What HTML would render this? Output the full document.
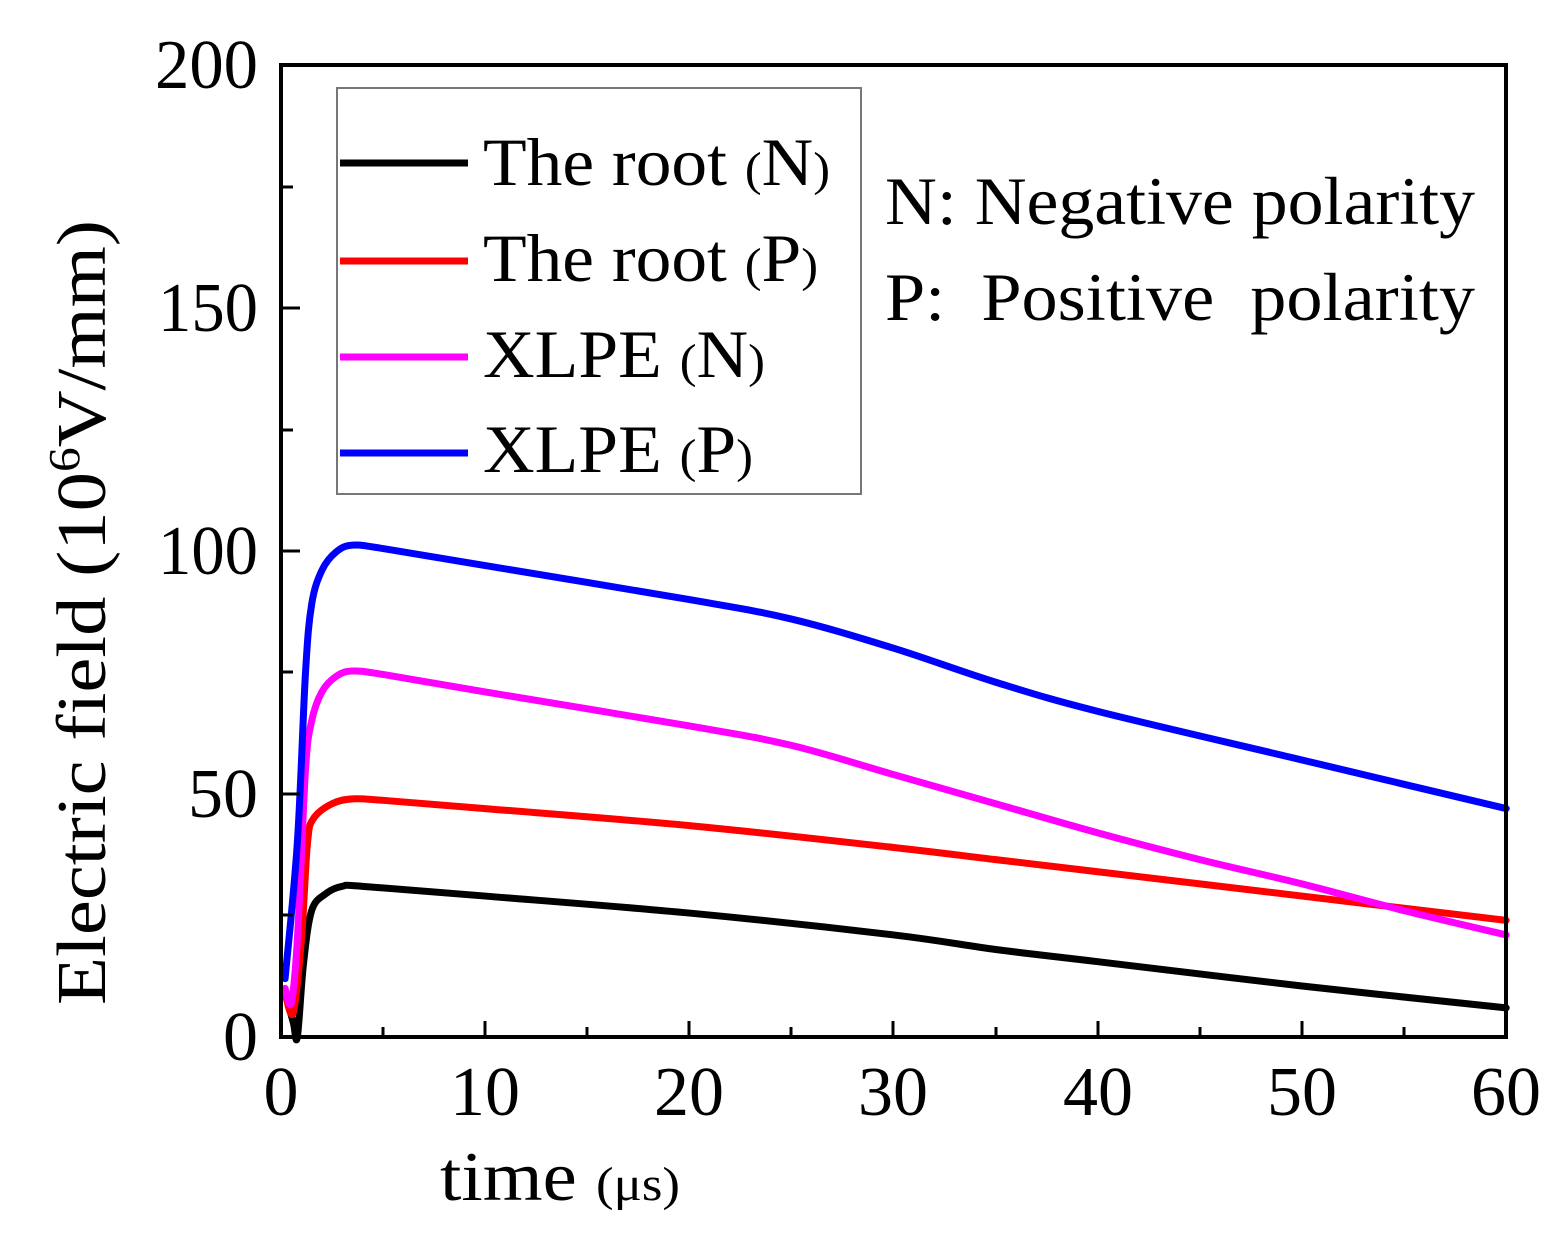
<!DOCTYPE html>
<html><head><style>
body{margin:0;background:#fff}
svg text{font-family:"Liberation Serif",serif;fill:#000}
</style></head><body>
<svg width="1563" height="1252" viewBox="0 0 1563 1252" xmlns="http://www.w3.org/2000/svg">
<g id="curves" fill="none" stroke-width="7" stroke-linejoin="round" stroke-linecap="round"></g>
<rect x="281" y="65" width="1225" height="972" fill="none" stroke="#000" stroke-width="4"/>
<g stroke="#000" stroke-width="3">
<line x1="485" y1="1037" x2="485" y2="1021"/><line x1="689" y1="1037" x2="689" y2="1021"/><line x1="893" y1="1037" x2="893" y2="1021"/><line x1="1098" y1="1037" x2="1098" y2="1021"/><line x1="1302" y1="1037" x2="1302" y2="1021"/>
<line x1="383" y1="1037" x2="383" y2="1027"/><line x1="587" y1="1037" x2="587" y2="1027"/><line x1="791" y1="1037" x2="791" y2="1027"/><line x1="996" y1="1037" x2="996" y2="1027"/><line x1="1200" y1="1037" x2="1200" y2="1027"/><line x1="1404" y1="1037" x2="1404" y2="1027"/>
<line x1="281" y1="794" x2="300" y2="794"/><line x1="281" y1="551" x2="300" y2="551"/><line x1="281" y1="308" x2="300" y2="308"/>
<line x1="281" y1="915" x2="293" y2="915"/><line x1="281" y1="672" x2="293" y2="672"/><line x1="281" y1="430" x2="293" y2="430"/><line x1="281" y1="187" x2="293" y2="187"/>
</g>
<g font-size="70" text-anchor="end">
<text x="258" y="1060">0</text><text x="258" y="817">50</text><text x="258" y="574" textLength="100" lengthAdjust="spacingAndGlyphs">100</text><text x="258" y="331" textLength="100" lengthAdjust="spacingAndGlyphs">150</text><text x="258" y="88" textLength="103" lengthAdjust="spacingAndGlyphs">200</text>
</g>
<g font-size="70" text-anchor="middle">
<text x="281" y="1115">0</text><text x="485" y="1115">10</text><text x="689" y="1115">20</text><text x="893" y="1115">30</text><text x="1098" y="1115">40</text><text x="1302" y="1115">50</text><text x="1506" y="1115">60</text>
</g>
<text x="440" y="1200" font-size="70" textLength="240" lengthAdjust="spacingAndGlyphs">time <tspan font-size="48">(μs)</tspan></text>
<text transform="translate(105,1005) rotate(-90)" font-size="70" textLength="785" lengthAdjust="spacingAndGlyphs">Electric field (10<tspan font-size="44" dy="-26">6</tspan><tspan dy="26">V/mm)</tspan></text>
<rect x="337" y="88" width="524" height="406" fill="#fff" stroke="#777" stroke-width="2"/>
<g stroke-width="7">
<line x1="340" y1="163" x2="468" y2="163" stroke="#000"/>
<line x1="340" y1="261" x2="468" y2="261" stroke="#f00"/>
<line x1="340" y1="357" x2="468" y2="357" stroke="#f0f"/>
<line x1="340" y1="453" x2="468" y2="453" stroke="#00f"/>
</g>
<g font-size="68">
<text x="483" y="185" textLength="347" lengthAdjust="spacingAndGlyphs">The root <tspan font-size="48">(</tspan>N<tspan font-size="48">)</tspan></text>
<text x="483" y="281" textLength="335" lengthAdjust="spacingAndGlyphs">The root <tspan font-size="48">(</tspan>P<tspan font-size="48">)</tspan></text>
<text x="483" y="377" textLength="282" lengthAdjust="spacingAndGlyphs">XLPE <tspan font-size="48">(</tspan>N<tspan font-size="48">)</tspan></text>
<text x="483" y="472" textLength="270" lengthAdjust="spacingAndGlyphs">XLPE <tspan font-size="48">(</tspan>P<tspan font-size="48">)</tspan></text>
<text x="885" y="224" textLength="590" lengthAdjust="spacingAndGlyphs">N: Negative polarity</text>
<text x="885" y="320" xml:space="preserve" textLength="590" lengthAdjust="spacingAndGlyphs">P:  Positive  polarity</text>
</g>
</svg>
<script>
const X=t=>281+t*20.42, Y=v=>1037-v*4.86;
const S={
"#00f":[[0.2,12],[0.8,40],[1.2,75],[1.5,89],[2,96],[2.7,99.8],[3.5,101.2],[5,100.5],[10,97],[20,90],[25,86],[30,80],[35,73],[40,67],[50,57],[60,47]],
"#f0f":[[0.2,10],[0.5,7],[0.8,20],[1.2,55],[1.5,65],[2,71],[2.7,74.2],[3.5,75.3],[5,74.6],[10,71],[20,64],[25,60],[30,54],[35,48],[40,42],[45,36.5],[50,31.5],[55,26],[60,21]],
"#f00":[[0.2,9],[0.6,5],[1,20],[1.3,40],[1.6,45],[2.5,48],[3.5,49],[5,48.7],[10,47],[20,43.5],[30,39],[35,36.5],[40,34],[50,29],[55,26.5],[60,24]],
"#000":[[0.2,9],[0.6,3],[0.8,0],[1.1,15],[1.5,26],[2.2,29.5],[3,31],[4,31],[10,29],[20,25.5],[30,21],[35,18],[40,15.5],[50,10.5],[60,6]]};
const g=document.getElementById('curves');
for(const c of ["#000","#f00","#f0f","#00f"]){
 const p=S[c].map(([t,v])=>[X(t),Y(v)]);
 let d=`M${p[0][0]},${p[0][1]}`;
 for(let i=0;i<p.length-1;i++){
  const p0=p[i-1]||p[i],p1=p[i],p2=p[i+1],p3=p[i+2]||p2;
  const c1=[p1[0]+(p2[0]-p0[0])/6,p1[1]+(p2[1]-p0[1])/6],c2=[p2[0]-(p3[0]-p1[0])/6,p2[1]-(p3[1]-p1[1])/6];
  d+=` C${c1} ${c2} ${p2}`;
 }
 const e=document.createElementNS("http://www.w3.org/2000/svg","path");
 e.setAttribute("d",d);e.setAttribute("stroke",c);g.appendChild(e);
}
</script>
</body></html>
